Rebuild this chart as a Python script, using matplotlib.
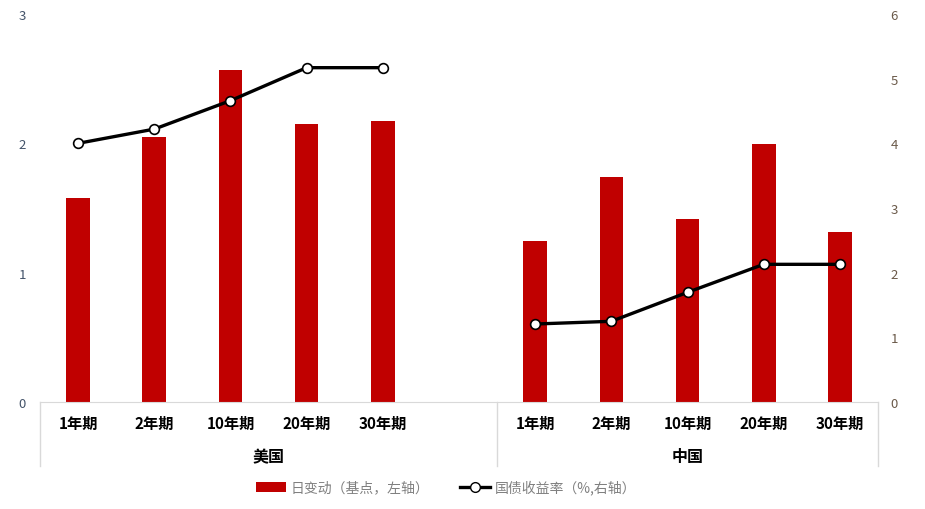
import numpy as np
import matplotlib
matplotlib.use("Agg")
import matplotlib.pyplot as plt
from matplotlib.lines import Line2D
from matplotlib.patches import Patch

plt.rcParams['font.family'] = ['Noto Sans CJK SC', 'DejaVu Sans']

groups = ['美国', '中国']
tenors = ['1年期', '2年期', '10年期', '20年期', '30年期']
us_change = [1.575, 2.05, 2.57, 2.15, 2.17]
cn_change = [1.243, 1.742, 1.415, 1.993, 1.312]
us_yield = [4.00, 4.22, 4.66, 5.17, 5.17]
cn_yield = [1.206, 1.248, 1.696, 2.129, 2.129]
left_ticks = [0, 1, 2, 3]
right_ticks = [0, 1, 2, 3, 4, 5, 6]
legend_labels = ['日变动（基点，左轴）', '国债收益率（%,右轴）']

bar_color = '#C00000'
n = len(tenors)
x_us = np.arange(n)
x_cn = np.arange(n) + n + 1
x_all = np.concatenate([x_us, x_cn])

fig = plt.figure(figsize=(9.25, 5.1), dpi=100)
ax = fig.add_axes([40/925, 1-403/510, 838/925, 388/510])
ax2 = ax.twinx()

ax.bar(x_us, us_change, width=0.31, color=bar_color, zorder=2)
ax.bar(x_cn, cn_change, width=0.31, color=bar_color, zorder=2)

for xs, ys in [(x_us, us_yield), (x_cn, cn_yield)]:
    ax2.plot(xs, ys, color='black', lw=2.4, marker='o', markersize=7,
             markerfacecolor='white', markeredgecolor='black', markeredgewidth=1.2,
             zorder=3)

ax.set_xlim(-0.5, 2*n + 0.5)
ax.set_ylim(0, 3)
ax2.set_ylim(0, 6)
ax.set_yticks(left_ticks)
ax2.set_yticks(right_ticks)
ax.set_xticks([])

for a in (ax, ax2):
    for s in ['top', 'left', 'right']:
        a.spines[s].set_visible(False)
    a.spines['bottom'].set_color('#D9D9D9')
    a.tick_params(axis='both', length=0)
ax2.spines['bottom'].set_visible(False)

ax.tick_params(axis='y', labelsize=9.5, labelcolor='#44546A', pad=10)
ax2.tick_params(axis='y', labelsize=9.5, labelcolor='#6B5A4A', pad=9)

trans = ax.get_xaxis_transform()
for xi, lab in zip(x_all, tenors + tenors):
    ax.text(xi, -0.055, lab, transform=trans, ha='center', va='center',
            fontsize=11, fontweight='bold', color='black')

group_centers = [(-0.5 + n + 0.5) / 2, (n + 0.5 + 2*n + 0.5) / 2]
for gc, g in zip(group_centers, groups):
    ax.text(gc, -0.14, g, transform=trans, ha='center', va='center',
            fontsize=11.5, fontweight='bold', color='black')

for xb in [-0.5, n + 0.5, 2*n + 0.5]:
    ax.plot([xb, xb], [0, -0.165], transform=trans, color='#D9D9D9', lw=1,
            clip_on=False)

handles = [Patch(facecolor=bar_color, edgecolor='none'),
           Line2D([0], [0], color='black', lw=2.4, marker='o', markersize=7,
                  markerfacecolor='white', markeredgecolor='black')]
fig.legend(handles, legend_labels, loc='center', bbox_to_anchor=(0.482, 0.043),
           ncol=2, frameon=False, fontsize=10, labelcolor='#808080',
           handlelength=2.2, handletextpad=0.3, columnspacing=2.2)

fig.savefig('out.png', dpi=100)
